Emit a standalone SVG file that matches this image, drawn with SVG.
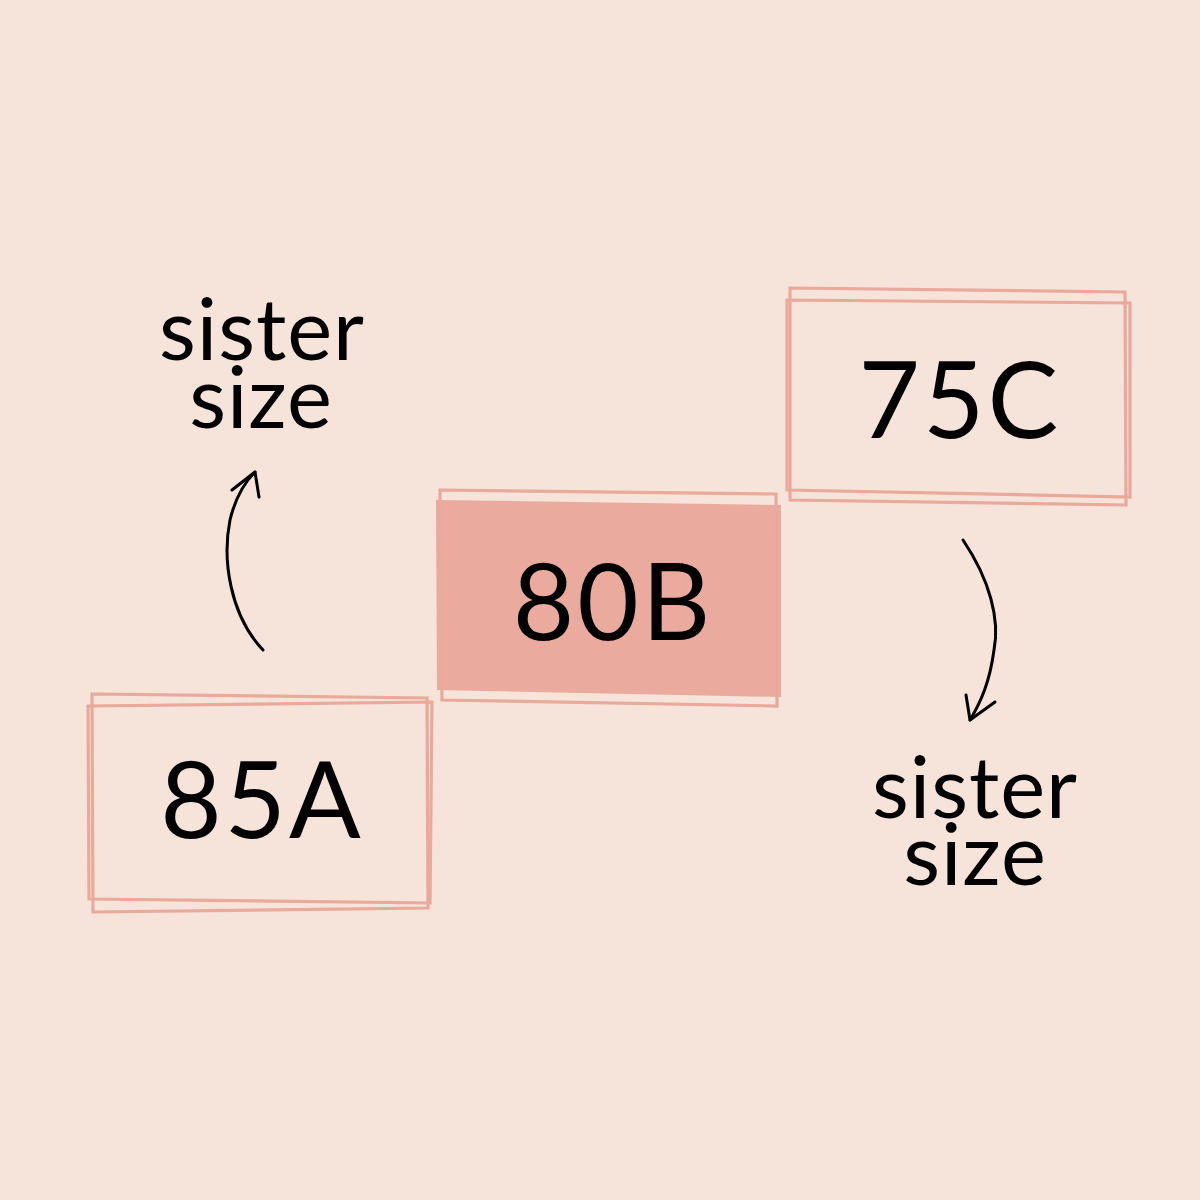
<svg xmlns="http://www.w3.org/2000/svg" width="1200" height="1200" viewBox="0 0 1200 1200">
<style>
.bg{fill:#F6E3DA}
.frame{fill:none;stroke:#E9A99B;stroke-width:3.2}
.solid{fill:#EAAA9D}
.big{font-family:Lato,"Noto Sans",sans-serif;font-weight:400;font-size:106px;letter-spacing:3px;fill:#000;text-anchor:middle}
.lbl{font-family:Lato,"Noto Sans",sans-serif;font-weight:400;font-size:85px;letter-spacing:1px;fill:#000;text-anchor:middle}
.arr{fill:none;stroke:#000;stroke-width:3;stroke-linecap:round;stroke-linejoin:round}
</style>
<rect class="bg" width="1200" height="1200"/>
<g id="node-85A">
<polygon class="frame" points="92,694 427,698 428,908 93,912"/>
<polygon class="frame" points="88,706 432,702 430,903 89,899"/>
<text class="big" x="262" y="838">85A</text>
</g>
<g id="node-80B">
<polygon class="solid" points="436,500 781,505 781,697 437,690"/>
<polygon class="frame" points="440,490 776,494 777,706 442,700"/>
<text class="big" x="613" y="640">80B</text>
</g>
<g id="node-75C">
<polygon class="frame" points="790,288 1125,292 1126,505 790,500"/>
<polygon class="frame" points="787,300 1130,303 1130,497 787,490"/>
<text class="big" x="960" y="438">75C</text>
</g>
<g id="label-left">
<text class="lbl" x="262" y="360">sister</text>
<text class="lbl" x="261" y="428">size</text>
</g>
<g id="label-right">
<text class="lbl" x="975" y="818">sister</text>
<text class="lbl" x="975" y="885">size</text>
</g>
<g id="connectors">
<path class="arr" d="M263,650 C230,615 222,560 230,520 C236,495 245,482 255,472"/>
<path class="arr" d="M232,490 L255,472 L259,497"/>
<path class="arr" d="M963,540 C990,580 1000,620 994,650 C990,680 982,700 970,720"/>
<path class="arr" d="M966,695 L970,720 L995,702"/>
</g>
</svg>
